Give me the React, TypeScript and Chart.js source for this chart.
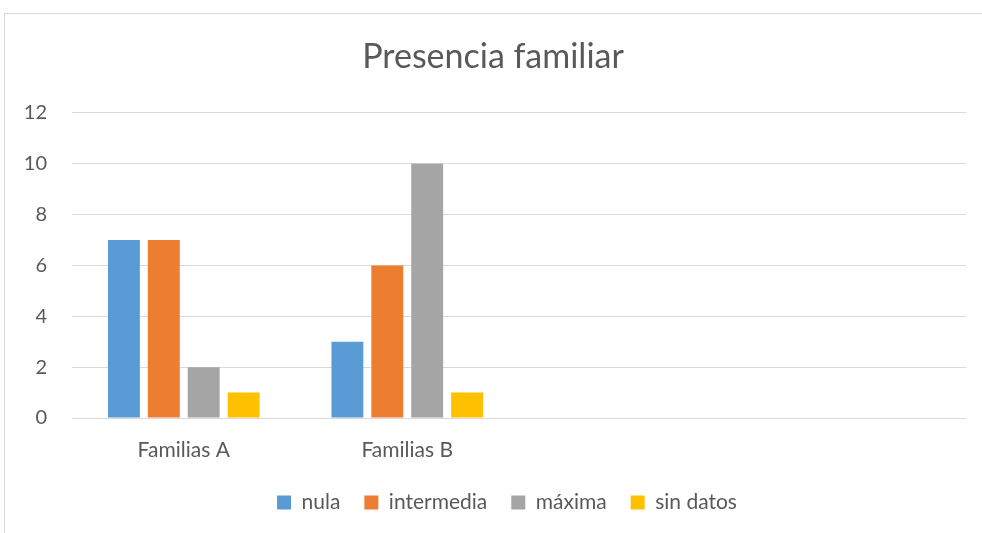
import React, { useEffect, useRef } from "react";
import { Chart, registerables } from "chart.js";

Chart.register(...registerables);

const categories = ["Familias A", "Familias B", "", ""];
const nula = [7, 3, null, null];
const intermedia = [7, 6, null, null];
const maxima = [2, 10, null, null];
const sinDatos = [1, 1, null, null];
const seriesNames = ["nula", "intermedia", "máxima", "sin datos"];
const colors = ["#5B9BD5", "#ED7D31", "#A5A5A5", "#FFC000"];
const FONT = "Lato, 'Open Sans', sans-serif";

const legendShift = {
  id: "legendShift",
  afterLayout(chart: any) {
    if (chart.legend) {
      chart.legend.left += 14;
      chart.legend.right += 14;
    }
  },
};

export default function App() {
  const ref = useRef<HTMLCanvasElement | null>(null);
  useEffect(() => {
    if (!ref.current) return;
    const values = [nula, intermedia, maxima, sinDatos];
    const chart = new Chart(ref.current, {
      type: "bar",
      data: {
        labels: categories,
        datasets: values.map((v, i) => ({
          label: seriesNames[i],
          data: v,
          backgroundColor: colors[i],
          borderWidth: 0,
          categoryPercentage: 0.714,
          barPercentage: 0.8,
        })),
      },
      options: {
        animation: false,
        responsive: false,
        maintainAspectRatio: false,
        layout: { padding: { left: 20, right: 16, top: 0, bottom: 10 } },
        plugins: {
          title: {
            display: true,
            text: "Presencia familiar",
            color: "#595959",
            font: { family: FONT, size: 34, weight: "normal" },
            padding: { top: 37, bottom: 35 },
          },
          legend: {
            position: "bottom",
            labels: {
              boxWidth: 14,
              boxHeight: 14,
              color: "#595959",
              font: { family: FONT, size: 21 },
              padding: 24,
            },
          },
          tooltip: { enabled: false },
        },
        scales: {
          x: {
            grid: { display: false },
            border: { display: false },
            ticks: {
              color: "#595959",
              font: { family: FONT, size: 21 },
              padding: 12,
              maxRotation: 0,
            },
            afterFit: (s: any) => {
              s.height = 50;
            },
          },
          y: {
            min: 0,
            max: 12,
            ticks: {
              stepSize: 2,
              color: "#595959",
              font: { family: FONT, size: 20 },
              padding: 25,
            },
            grid: { color: "#D9D9D9", lineWidth: 1, drawTicks: false },
            border: { display: false },
            afterFit: (s: any) => {
              s.width = 52;
            },
          },
        },
      },
      plugins: [legendShift],
    });
    return () => chart.destroy();
  }, []);
  return (
    <div
      style={{
        position: "fixed",
        left: 0,
        top: 0,
        width: 982,
        height: 533,
        overflow: "hidden",
        background: "#fff",
      }}
    >
      <div
        style={{
          position: "absolute",
          left: 4,
          top: 13,
          width: 1100,
          height: 700,
          border: "1px solid #D9D9D9",
        }}
      />
      <canvas
        ref={ref}
        width={982}
        height={533}
        style={{ position: "absolute", left: 0, top: 0 }}
      />
    </div>
  );
}
